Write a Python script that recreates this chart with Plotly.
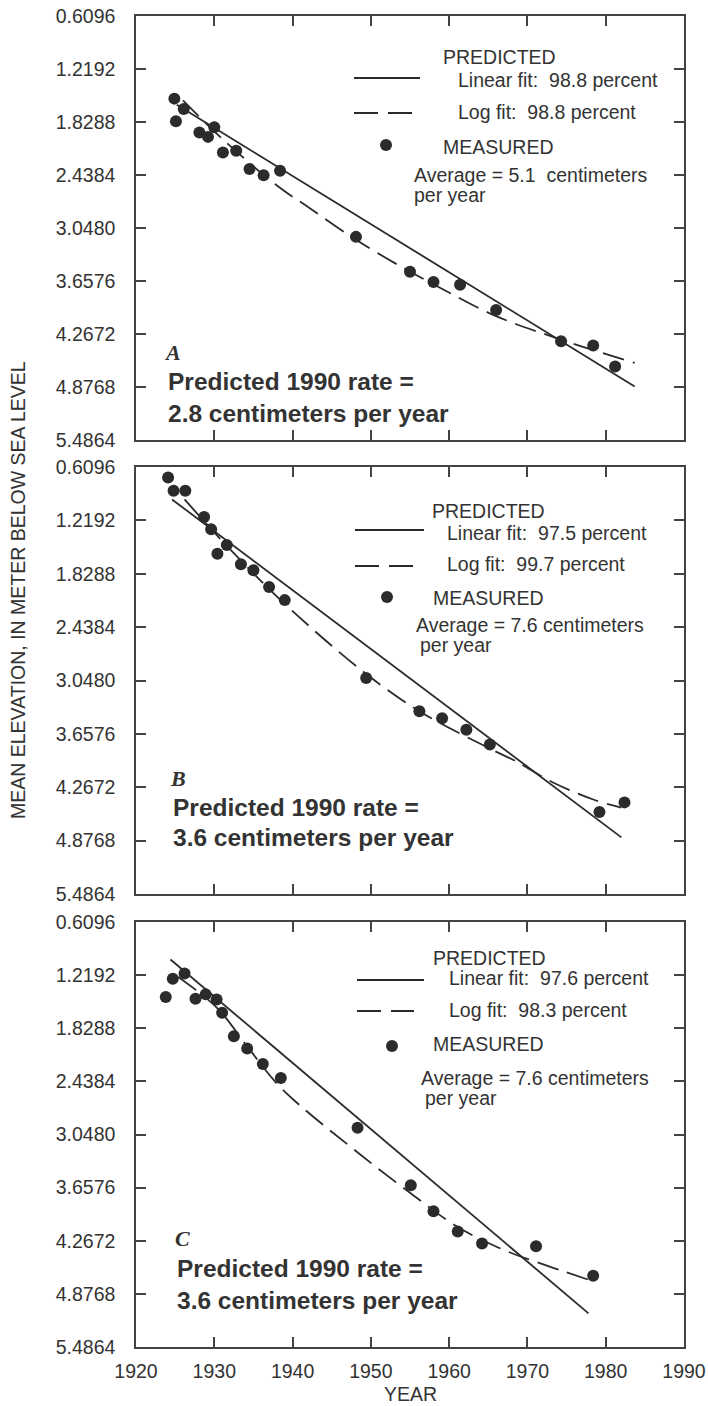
import plotly.graph_objects as go

# ---------------- data ----------------
years_A = [1924.9, 1925.1, 1926.1, 1928.1, 1929.2, 1930.0, 1931.1, 1932.8, 1934.5, 1936.3,
           1938.4, 1948.1, 1955.0, 1958.0, 1961.4, 1966.0, 1974.3, 1978.4, 1981.2]
depth_A = [1.56, 1.82, 1.68, 1.95, 2.00, 1.89, 2.18, 2.16, 2.37, 2.44,
           2.39, 3.15, 3.55, 3.67, 3.70, 3.99, 4.35, 4.40, 4.64]
linear_years_A = [1925.2, 1983.7]
linear_depth_A = [1.63, 4.87]
log_years_A = [1926.0, 1931.0, 1938.0, 1942.2, 1948.2, 1954.4, 1958.1, 1965.7, 1973.9, 1983.7]
log_depth_A = [1.58, 2.02, 2.56, 2.82, 3.19, 3.52, 3.70, 4.05, 4.32, 4.60]

years_B = [1924.1, 1924.8, 1926.3, 1928.7, 1929.6, 1930.4, 1931.6, 1933.4, 1935.0, 1937.0,
           1939.0, 1949.4, 1956.2, 1959.1, 1962.2, 1965.2, 1979.2, 1982.4]
depth_B = [0.73, 0.88, 0.88, 1.18, 1.32, 1.60, 1.50, 1.72, 1.79, 1.98,
           2.13, 3.02, 3.40, 3.48, 3.61, 3.78, 4.55, 4.44]
linear_years_B = [1924.6, 1982.0]
linear_depth_B = [0.98, 4.84]
log_years_B = [1926.2, 1931.6, 1939.2, 1949.5, 1956.4, 1965.3, 1968.5, 1973.2, 1978.5, 1982.0]
log_depth_B = [0.98, 1.51, 2.19, 2.98, 3.41, 3.83, 3.97, 4.21, 4.41, 4.50]

years_C = [1923.8, 1924.7, 1926.2, 1927.6, 1928.9, 1930.3, 1931.0, 1932.5, 1934.2, 1936.2,
           1938.5, 1948.3, 1955.1, 1958.0, 1961.1, 1964.2, 1971.1, 1978.4]
depth_C = [1.47, 1.26, 1.20, 1.49, 1.44, 1.50, 1.65, 1.92, 2.06, 2.24,
           2.40, 2.97, 3.63, 3.93, 4.16, 4.30, 4.33, 4.67]
linear_years_C = [1924.4, 1977.8]
linear_depth_C = [1.04, 5.10]
log_years_C = [1925.4, 1930.4, 1934.4, 1938.6, 1948.4, 1955.2, 1961.1, 1966.4, 1971.1, 1978.0]
log_depth_C = [1.24, 1.60, 2.06, 2.52, 3.26, 3.73, 4.11, 4.35, 4.51, 4.72]

y_tickvals = [0.6096, 1.2192, 1.8288, 2.4384, 3.0480, 3.6576, 4.2672, 4.8768, 5.4864]
y_ticktext = ["0.6096", "1.2192", "1.8288", "2.4384", "3.0480", "3.6576", "4.2672", "4.8768", "5.4864"]
x_tickvals = [1920, 1930, 1940, 1950, 1960, 1970, 1980, 1990]
x_ticktext = ["1920", "1930", "1940", "1950", "1960", "1970", "1980", "1990"]

panel_letters = ["A", "B", "C"]
linear_labels = ["Linear fit:\u00a0 98.8 percent", "Linear fit:\u00a0 97.5 percent", "Linear fit:\u00a0 97.6 percent"]
log_labels = ["Log fit:\u00a0 98.8 percent", "Log fit:\u00a0 99.7 percent", "Log fit:\u00a0 98.3 percent"]
average_labels = ["Average = 5.1\u00a0 centimeters", "Average = 7.6 centimeters", "Average = 7.6 centimeters"]
rate_labels = ["2.8 centimeters per year", "3.6 centimeters per year", "3.6 centimeters per year"]

# ---------------- figure ----------------
W, H = 708, 1406
L, R, T, B = 136, 684, 16, 1347          # plot area in pixels
INK = "#2b2b2b"
FRAME = "#444444"
TXT = "#333333"
FONT = "Liberation Sans, Arial, Helvetica, sans-serif"


def px(x):
    return (x - L) / (R - L)


def py(y):
    return 1 - (y - T) / (B - T)


panels = [
    (years_A, depth_A, linear_years_A, linear_depth_A, log_years_A, log_depth_A),
    (years_B, depth_B, linear_years_B, linear_depth_B, log_years_B, log_depth_B),
    (years_C, depth_C, linear_years_C, linear_depth_C, log_years_C, log_depth_C),
]
tops = [16, 467, 922]
bottoms = [440, 894, 1347]

fig = go.Figure()
for i, (yx, yd, lx, ld, gx, gd) in enumerate(panels):
    xa = "x" if i == 0 else f"x{i+1}"
    ya = "y" if i == 0 else f"y{i+1}"
    fig.add_trace(go.Scatter(x=lx, y=ld, mode="lines", xaxis=xa, yaxis=ya,
                             line=dict(color=INK, width=1.8), showlegend=False))
    fig.add_trace(go.Scatter(x=gx, y=gd, mode="lines", xaxis=xa, yaxis=ya, line_shape="spline",
                             line=dict(color=INK, width=1.8, dash="22px,9px"), showlegend=False))
    fig.add_trace(go.Scatter(x=yx, y=yd, mode="markers", xaxis=xa, yaxis=ya,
                             marker=dict(color=INK, size=12), showlegend=False))

layout = dict(
    width=W, height=H,
    margin=dict(l=L, r=W - R, t=T, b=H - B, autoexpand=False),
    paper_bgcolor="white", plot_bgcolor="white",
    font=dict(family=FONT, color=TXT, size=19.5),
    showlegend=False,
)
axis_common = dict(showline=True, linecolor=FRAME, linewidth=1.5, mirror="ticks",
                   ticks="inside", ticklen=10, tickwidth=1.5, tickcolor=FRAME,
                   showgrid=False, zeroline=False, automargin=False,
                   ticklabeloverflow="allow",
                   tickfont=dict(family=FONT, size=19.5, color=TXT))
for i in range(3):
    xk = "xaxis" if i == 0 else f"xaxis{i+1}"
    yk = "yaxis" if i == 0 else f"yaxis{i+1}"
    ya = "y" if i == 0 else f"y{i+1}"
    xa = "x" if i == 0 else f"x{i+1}"
    layout[xk] = dict(axis_common, domain=[0, 1], range=[1920, 1990], anchor=ya,
                      tickvals=x_tickvals, ticktext=x_ticktext,
                      showticklabels=(i == 2), ticklabelstandoff=6)
    layout[yk] = dict(axis_common, domain=[py(bottoms[i]), py(tops[i])],
                      range=[5.4864, 0.6096], anchor=xa,
                      tickvals=y_tickvals, ticktext=y_ticktext, ticklabelstandoff=15)
fig.update_layout(**layout)

annotations = []
shapes = []


def text(t, x, y, size=19.5, bold=False, xanchor="left", family=FONT, italic=False, angle=0):
    s = t
    if bold:
        s = f"<b>{s}</b>"
    if italic:
        s = f"<i>{s}</i>"
    annotations.append(dict(text=s, x=px(x), y=py(y), xref="paper", yref="paper",
                            xanchor=xanchor, yanchor="middle", showarrow=False,
                            textangle=angle,
                            font=dict(family=family, size=size, color=TXT)))


# per-panel legend / label positions (pixels)
legend_pos = [
    dict(pred=(441, 57), lin=(456, 80), log=(456, 112), meas=(441, 147), avg=(412, 175), per=(412, 195),
         solid=(354, 420, 78), dash=(354, 414, 113), dot=(386, 145),
         letter=(172, 352), r1=(166, 381), r2=(166, 413)),
    dict(pred=(430, 511), lin=(445, 533), log=(445, 564), meas=(431, 598), avg=(414, 625), per=(418, 645),
         solid=(355, 424, 530), dash=(355, 414, 566), dot=(387, 597),
         letter=(178, 778), r1=(171, 807), r2=(171, 837)),
    dict(pred=(431, 958), lin=(447, 978), log=(447, 1010), meas=(431, 1044), avg=(419, 1078), per=(423, 1098),
         solid=(357, 424, 980), dash=(357, 414, 1011), dot=(392, 1046),
         letter=(182, 1238), r1=(175, 1268), r2=(175, 1300)),
]

for i, p in enumerate(legend_pos):
    text("PREDICTED", *p["pred"])
    text(linear_labels[i], *p["lin"])
    text(log_labels[i], *p["log"])
    text("MEASURED", *p["meas"])
    text(average_labels[i], *p["avg"])
    text("per year", *p["per"])
    x0, x1, yy = p["solid"]
    shapes.append(dict(type="line", xref="paper", yref="paper", x0=px(x0), x1=px(x1), y0=py(yy), y1=py(yy),
                       line=dict(color=INK, width=1.8)))
    x0, x1, yy = p["dash"]
    shapes.append(dict(type="line", xref="paper", yref="paper", x0=px(x0), x1=px(x1), y0=py(yy), y1=py(yy),
                       line=dict(color=INK, width=1.8, dash="24px,10px")))
    dx, dy = p["dot"]
    shapes.append(dict(type="circle", xref="paper", yref="paper", xsizemode="pixel", ysizemode="pixel",
                       xanchor=px(dx), yanchor=py(dy), x0=-6, x1=6, y0=-6, y1=6,
                       fillcolor=INK, line=dict(color=INK, width=0)))
    text(panel_letters[i], *p["letter"], size=22, family="Liberation Serif, Times New Roman, serif",
         italic=True, bold=True, xanchor="center")
    text("Predicted 1990 rate =", *p["r1"], size=24.5, bold=True)
    text(rate_labels[i], *p["r2"], size=24.5, bold=True)

text("YEAR", 410, 1394, xanchor="center")
text("MEAN ELEVATION, IN METER BELOW SEA LEVEL", 18, 590, xanchor="center", angle=-90)

fig.update_layout(annotations=annotations, shapes=shapes)
fig.write_html(
    "out.html",
    config={"displayModeBar": False},
    post_script="document.body.style.margin='0px';document.documentElement.style.overflow='hidden';",
)
